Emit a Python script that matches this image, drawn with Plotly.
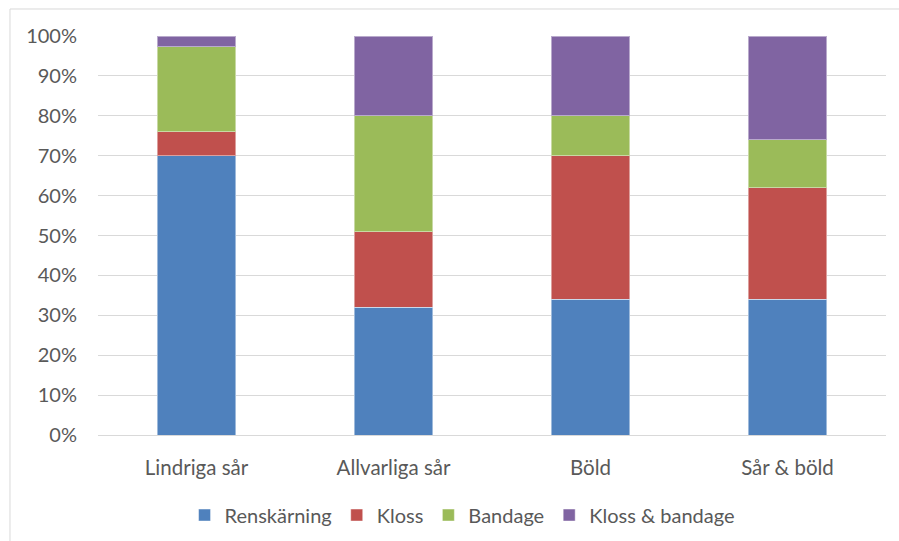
import plotly.graph_objects as go

categories = ["Lindriga sår", "Allvarliga sår", "Böld", "Sår & böld"]
renskarning = [70, 32, 34, 34]
kloss = [6, 19, 36, 28]
bandage = [21.3, 29, 10, 12]
kloss_bandage = [2.7, 20, 20, 26]

series = [
    ("Renskärning", renskarning, "#4f81bd"),
    ("Kloss", kloss, "#c0504d"),
    ("Bandage", bandage, "#9bbb59"),
    ("Kloss & bandage", kloss_bandage, "#8064a2"),
]

tick_vals = [i * 10 for i in range(11)]
tick_text = [f"{v}%" for v in tick_vals]

font_family = "Lato, 'Open Sans', sans-serif"
text_color = "#595959"

fig = go.Figure()
for name, vals, color in series:
    fig.add_trace(go.Bar(
        x=categories,
        y=vals,
        name=name,
        marker=dict(color=color, line=dict(color="rgba(255,255,255,0.45)", width=1)),
        hoverinfo="x+y+name",
    ))

fig.update_layout(
    barmode="stack",
    bargap=0.604,
    width=899,
    height=541,
    margin=dict(l=98, r=13, t=36, b=106, autoexpand=False),
    paper_bgcolor="white",
    plot_bgcolor="white",
    font=dict(family=font_family, size=20, color=text_color),
    showlegend=True,
    legend=dict(
        orientation="h",
        x=0.462,
        xanchor="center",
        yref="container",
        y=0.048,
        yanchor="middle",
        font=dict(size=20, color=text_color),
        itemwidth=30,
        traceorder="normal",
    ),
    xaxis=dict(
        showgrid=False,
        showline=False,
        ticks="",
        ticklabelstandoff=18,
        tickfont=dict(size=20.5, color=text_color),
    ),
    yaxis=dict(
        range=[0, 100],
        tickvals=tick_vals,
        ticktext=tick_text,
        showgrid=True,
        gridcolor="#d9d9d9",
        gridwidth=1,
        zeroline=True,
        zerolinecolor="#d9d9d9",
        zerolinewidth=1,
        showline=False,
        ticks="",
        ticklabelstandoff=20,
        tickfont=dict(size=20, color=text_color),
    ),
    shapes=[
        # chart frame: top and left edges
        dict(type="line", xref="paper", yref="paper",
             x0=-0.1117, x1=1.03, y0=1.0677, y1=1.0677,
             line=dict(color="#d9d9d9", width=1)),
        dict(type="line", xref="paper", yref="paper",
             x0=-0.1117, x1=-0.1117, y0=1.0677, y1=-0.27,
             line=dict(color="#d9d9d9", width=1)),
    ],
)

fig.write_html("out.html")
